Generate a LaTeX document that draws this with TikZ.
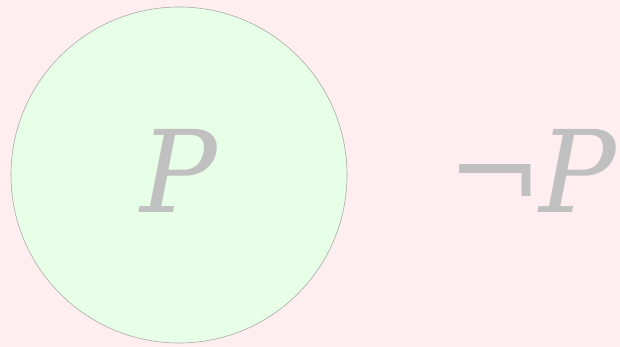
\documentclass[tikz,border=0pt]{standalone}
\usepackage{fontspec}
\setmainfont{DejaVu Serif}
\definecolor{bgpink}{RGB}{255,238,240}
\definecolor{circgreen}{RGB}{230,255,230}
\definecolor{circedge}{RGB}{170,170,170}
\definecolor{txtgray}{RGB}{192,192,192}
\tikzset{bigtext/.style={inner sep=0pt, anchor=base, text=txtgray, font=\fontsize{114}{114}\selectfont}}
\begin{document}
\begin{tikzpicture}[x=1pt,y=1pt]
\fill[bgpink] (0,0) rectangle (620,347);
\useasboundingbox (0,0) rectangle (620,347);
\draw[circedge, fill=circgreen, line width=0.6pt] (179,172) circle (168);
\node[bigtext] (p) at (179,134) {\itshape P};
\node[bigtext] (np) at (532,134) {¬\kern-3pt\itshape P};
\end{tikzpicture}
\end{document}
